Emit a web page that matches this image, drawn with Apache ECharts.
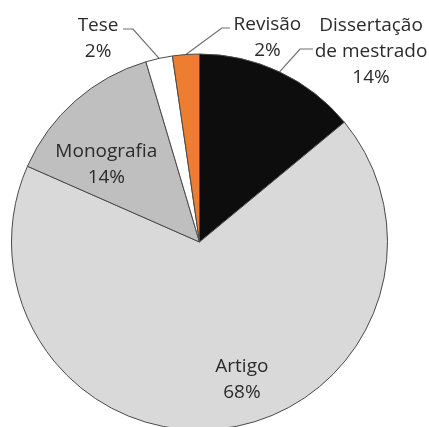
<!DOCTYPE html>
<html><head><meta charset="utf-8">
<script src="https://cdn.jsdelivr.net/npm/echarts@6/dist/echarts.min.js"></script>
<style>html,body{margin:0;padding:0;background:#fff}#c{width:429px;height:427px}</style>
</head><body><div id="c"></div>
<script>
const categories = ['Dissertação\nde mestrado', 'Artigo', 'Monografia', 'Tese', 'Revisão'];
const values = [14, 67.6, 13.8, 2.3, 2.3];
const colors = ['#0d0d0d', '#d9d9d9', '#bfbfbf', '#ffffff', '#ed7d31'];

// label placement styles (offsets from the library's default anchors)
const outsideCfg = {
  0: {line: [[20.5, -22.9], [33.5, -22.9]], label: [91.5, -20]},
  4: {line: [[35.9, -26.5], [43.9, -26.5]], label: [81.5, -16.5]},
  3: {line: [[-26.1, -29.4], [-36.1, -29.4]], label: [-61, -20]}
};
const insideCfg = { 1: [29, 42], 2: [-29, -4.5] };

const chart = echarts.init(document.getElementById('c'), null, {renderer: 'canvas'});
chart.setOption({
  animation: false,
  backgroundColor: '#fff',
  series: [{
    type: 'pie',
    center: [199.5, 242],
    radius: 188,
    startAngle: 90,
    clockwise: true,
    avoidLabelOverlap: false,
    itemStyle: {borderColor: '#4a4a4a', borderWidth: 1},
    label: {
      fontFamily: 'Open Sans', fontSize: 19, lineHeight: 26, color: '#2b2b2b',
      formatter: p => p.name + '\n' + Math.round(p.value) + '%'
    },
    labelLine: {lineStyle: {color: '#6f6f6f', width: 1.2}},
    data: categories.map((n, i) => ({
      name: n, value: values[i],
      itemStyle: {color: colors[i]},
      label: {position: outsideCfg[i] ? 'outside' : 'inside'},
      labelLine: {show: !!outsideCfg[i]}
    })),
    labelLayout: function (p) {
      const i = p.dataIndex;
      if (outsideCfg[i] && p.labelLinePoints) {
        const a = p.labelLinePoints[0];
        const c = outsideCfg[i];
        return {
          x: a[0] + c.label[0], y: a[1] + c.label[1],
          align: 'center', verticalAlign: 'middle',
          labelLinePoints: [[a[0], a[1]], [a[0] + c.line[0][0], a[1] + c.line[0][1]], [a[0] + c.line[1][0], a[1] + c.line[1][1]]]
        };
      }
      if (insideCfg[i]) {
        return {dx: insideCfg[i][0], dy: insideCfg[i][1]};
      }
      return {};
    }
  }]
});
</script></body></html>
